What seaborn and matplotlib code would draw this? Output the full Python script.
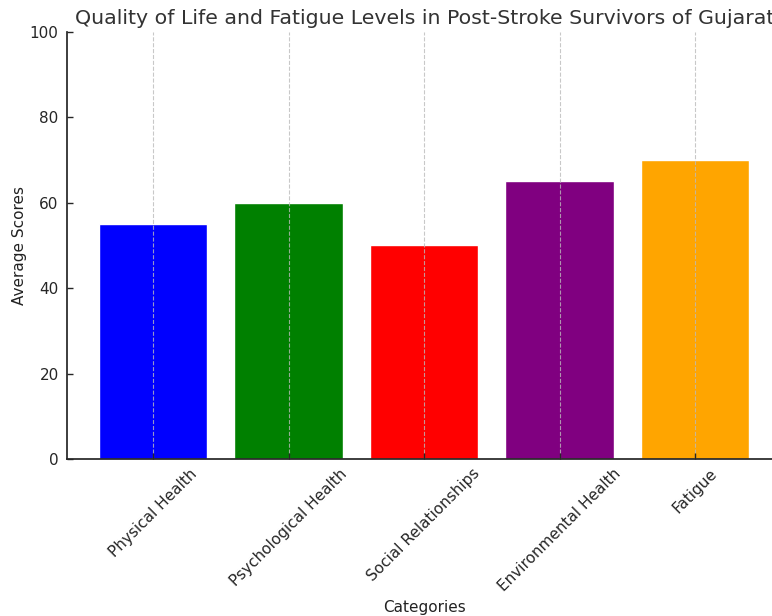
import matplotlib
matplotlib.use("Agg")
import matplotlib.pyplot as plt
import seaborn as sns
import pandas as pd

categories = ["Physical Health", "Psychological Health", "Social Relationships",
              "Environmental Health", "Fatigue"]
scores = [55, 60, 50, 65, 70]
colors = ["blue", "green", "red", "purple", "orange"]

sns.set_theme(style="ticks")
plt.rcParams['font.family'] = ['DejaVu Sans']

df = pd.DataFrame({"Categories": categories, "Average Scores": scores})

fig = plt.figure(figsize=(7.72, 6.16), dpi=100)
ax = fig.add_axes([67/772, 1 - 459/616, (782 - 67)/772, (459 - 32)/616])
sns.barplot(data=df, x="Categories", y="Average Scores", hue="Categories",
            palette=colors, legend=False, width=0.8, saturation=1, ax=ax)
ax.set_xlim(-0.635, 4.642)
ax.set_ylim(0, 100)
ax.set_yticks([0, 20, 40, 60, 80, 100])
ax.set_axisbelow(False)
ax.xaxis.grid(True, linestyle="--", color="#bbbbbb", linewidth=0.8, alpha=0.8)
sns.despine(ax=ax)
ax.tick_params(direction="in", length=4, width=1)
ax.set_title("Quality of Life and Fatigue Levels in Post-Stroke Survivors of Gujarat",
             fontsize=14.75, color="#333333")
ax.set_xlabel("Categories", fontsize=11, labelpad=4, color="#222222")
ax.set_ylabel("Average Scores", fontsize=11, labelpad=2, color="#222222")
plt.setp(ax.get_xticklabels(), rotation=45, fontsize=11)
ax.tick_params(axis="y", labelsize=11, pad=6)
ax.tick_params(axis="x", pad=5)
fig.savefig("out.png", dpi=100)
